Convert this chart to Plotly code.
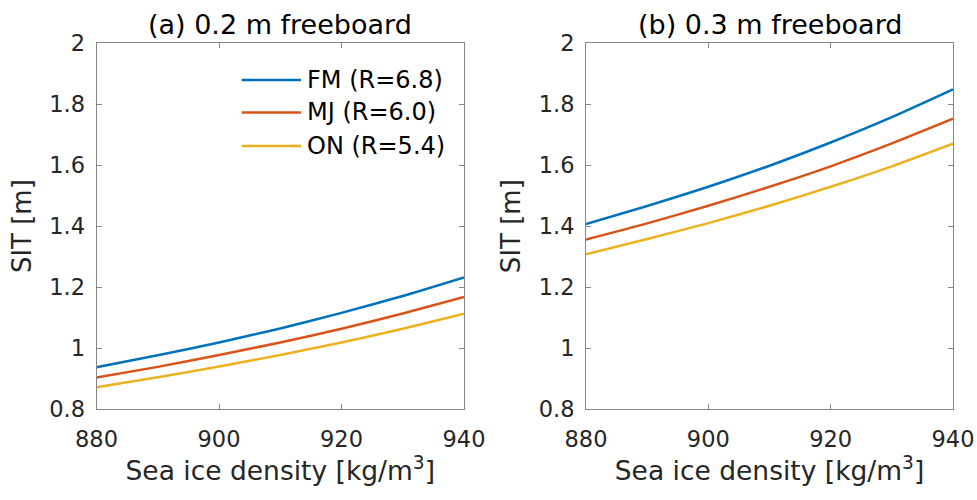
import plotly.graph_objects as go

# Sea ice density [kg/m^3]
density = [880, 890, 900, 910, 920, 930, 940]

# Sea ice thickness [m] for 0.2 m freeboard
sit_02 = {
    "FM (R=6.8)": [0.938, 0.977, 1.019, 1.065, 1.116, 1.171, 1.232],
    "MJ (R=6.0)": [0.904, 0.939, 0.978, 1.019, 1.064, 1.114, 1.168],
    "ON (R=5.4)": [0.872, 0.905, 0.940, 0.978, 1.019, 1.064, 1.113],
}

# Sea ice thickness [m] for 0.3 m freeboard
sit_03 = {
    "FM (R=6.8)": [1.407, 1.466, 1.529, 1.598, 1.674, 1.757, 1.848],
    "MJ (R=6.0)": [1.356, 1.409, 1.467, 1.529, 1.596, 1.671, 1.752],
    "ON (R=5.4)": [1.308, 1.358, 1.410, 1.467, 1.529, 1.596, 1.670],
}

panel_titles = ["(a) 0.2 m freeboard", "(b) 0.3 m freeboard"]
x_ticks = [880, 900, 920, 940]
y_ticks = [0.8, 1.0, 1.2, 1.4, 1.6, 1.8, 2.0]
y_ticklabels = ["0.8", "1", "1.2", "1.4", "1.6", "1.8", "2"]

colors = ["#0072BD", "#D95319", "#EDB120"]
FONT = "DejaVu Sans, Liberation Sans, Arial, sans-serif"
TXT = "#262626"
FRAME = "#868686"

W, H = 977, 500
x_domains = [[96.5 / W, 464 / W], [586 / W, 953 / W]]
y_domain = [(H - 409.3) / H, (H - 43) / H]

fig = go.Figure()

for p, data in enumerate([sit_02, sit_03]):
    ax = "" if p == 0 else "2"
    for c, (name, vals) in enumerate(data.items()):
        fig.add_trace(go.Scatter(
            x=density, y=vals, mode="lines", name=name,
            line=dict(color=colors[c], width=2.5, shape="spline", smoothing=0.6),
            xaxis="x" + ax, yaxis="y" + ax, showlegend=False,
        ))

axis_common = dict(
    showline=True, linecolor=FRAME, linewidth=1, mirror="allticks",
    ticks="inside", ticklen=5, tickcolor=FRAME, tickwidth=1,
    showgrid=False, zeroline=False, automargin=False,
    tickfont=dict(family=FONT, size=22.5, color=TXT),
)

for p in range(2):
    ax = "" if p == 0 else str(p + 1)
    fig.layout["xaxis" + ax] = dict(
        axis_common, domain=x_domains[p], range=[880, 940],
        tickvals=x_ticks, ticklabelstandoff=10,
        anchor="y" + ax,
        title=dict(text="Sea ice density [kg/m<sup>3</sup>]",
                   font=dict(family=FONT, size=26.5, color=TXT), standoff=8),
    )
    fig.layout["yaxis" + ax] = dict(
        axis_common, domain=y_domain, range=[0.8, 2.0],
        tickvals=y_ticks, ticktext=y_ticklabels, ticklabelstandoff=6,
        anchor="x" + ax,
        title=dict(text="SIT [m]", font=dict(family=FONT, size=26, color=TXT),
                   standoff=10),
    )
    fig.add_annotation(
        text=panel_titles[p], xref="paper", yref="paper",
        x=sum(x_domains[p]) / 2, y=(H - 24) / H, xanchor="center", yanchor="middle",
        showarrow=False, font=dict(family=FONT, size=27, color="#000000"),
    )

# Legend drawn inside panel (a)
leg_rows = [80, 112.5, 146]
for c, name in enumerate(sit_02.keys()):
    yy = (H - leg_rows[c]) / H
    fig.add_shape(type="line", xref="paper", yref="paper",
                  x0=241.7 / W, x1=301 / W, y0=yy, y1=yy,
                  line=dict(color=colors[c], width=2.5))
    fig.add_annotation(text=name, xref="paper", yref="paper",
                       x=305 / W, y=yy, xanchor="left", yanchor="middle",
                       showarrow=False, font=dict(family=FONT, size=24, color="#000000"))

fig.update_layout(
    width=W, height=H, margin=dict(l=0, r=0, t=0, b=0, autoexpand=False),
    paper_bgcolor="white", plot_bgcolor="white",
    showlegend=False,
)

fig.write_html("out.html")
